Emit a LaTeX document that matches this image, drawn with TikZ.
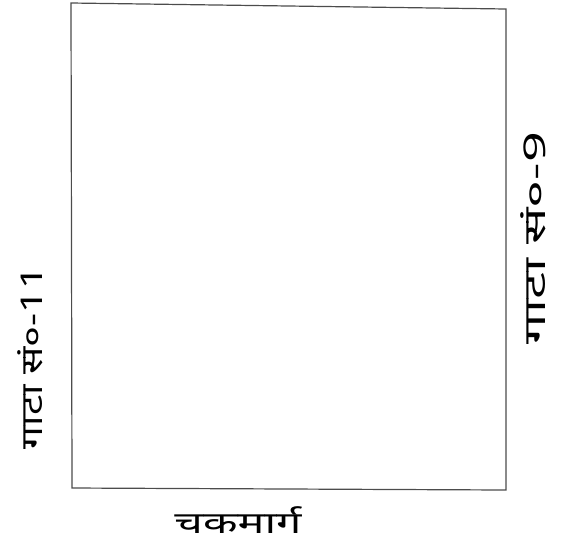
\documentclass[tikz,border=0pt]{standalone}
\usepackage{graphicx}
\usepackage{fontspec}
\newfontfamily\devfont[Script=Devanagari]{Noto Sans}
\begin{document}
\begin{tikzpicture}[x=1pt,y=-1pt,
  edge/.style={draw=black!70,line width=1.2pt},
  lbl/.style={font=\devfont\fontsize{30}{32}\selectfont,inner sep=0pt}]
\useasboundingbox (0,0) rectangle (561,547);
\coordinate (tl) at (71,3);
\coordinate (tr) at (506,9);
\coordinate (br) at (506,490);
\coordinate (bl) at (72,488);
\draw[edge] (tl) -- (tr) -- (br) -- (bl) -- cycle;
\node[lbl,rotate=90] (left) at (30,358) {\scalebox{1.35}[1]{गाटा सं०-11}};
\node[lbl,rotate=90] (right) at (533,238) {\scalebox{1.8}[1]{गाटा सं०-9}};
\node[lbl] (bottom) at (238,520) {\scalebox{1.5}[1]{चकमार्ग}};
\end{tikzpicture}
\end{document}
